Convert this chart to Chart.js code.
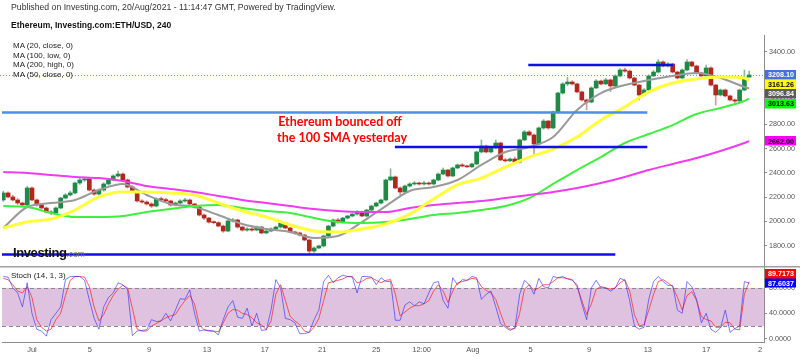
<!DOCTYPE html>
<html><head><meta charset="utf-8">
<script src="https://cdn.jsdelivr.net/npm/chart.js"></script>
<style>
html,body{margin:0;padding:0;background:#fff;width:800px;height:357px;overflow:hidden;font-family:"Liberation Sans",Arial,sans-serif;}
canvas{position:absolute;left:0;}
#c1{top:0;}
#c2{top:266px;}
.t{position:absolute;white-space:nowrap;line-height:1;transform:translateY(-50%);z-index:5;}
</style></head><body>
<canvas id="c1" width="800" height="266" style="width:800px;height:266px"></canvas>
<canvas id="c2" width="800" height="91" style="width:800px;height:91px"></canvas>
<div class="t" style="left:11px;top:7px;font-size:8.7px;color:#333">Published on Investing.com, 20/Aug/2021 - 11:14:47 GMT, Powered by TradingView.</div>
<div class="t" style="left:11px;top:25px;font-size:8.5px;font-weight:bold;color:#111">Ethereum, Investing.com:ETH/USD, 240</div>
<div class="t" style="left:13px;top:46px;font-size:8px;color:#222">MA (20, close, 0)</div>
<div class="t" style="left:13px;top:55.5px;font-size:8px;color:#222">MA (100, low, 0)</div>
<div class="t" style="left:13px;top:65px;font-size:8px;color:#222">MA (200, high, 0)</div>
<div class="t" style="left:13px;top:74.5px;font-size:8px;color:#222">MA (50, close, 0)</div>
<div class="t" style="left:13px;top:252px;font-size:13px;font-weight:bold;color:#111;letter-spacing:-0.4px">Investing<span style="font-size:8.5px;font-weight:normal;color:#777;letter-spacing:0">.com</span></div>
<div class="t" style="left:11px;top:276px;font-size:8px;color:#222">Stoch (14, 1, 3)</div>
<div class="t" style="left:340px;top:121.5px;transform:translate(-50%,-50%);font-family:Lato,sans-serif;font-weight:bold;font-size:12.5px;color:#ff0000">Ethereum bounced off</div>
<div class="t" style="left:342px;top:137.5px;transform:translate(-50%,-50%);font-family:Lato,sans-serif;font-weight:bold;font-size:12.5px;color:#ff0000">the 100 SMA yesterday</div>
<script>
// ---------------- DATA (4h-chart read at 8h resolution) ----------------
const open = [
2177,2235,2202,2177,2152,2136,2276,2177,2136,2111,
2078,2070,2111,2193,2218,2235,2317,2342,2350,2259,
2226,2259,2309,2342,2375,2391,2342,2284,2243,2169,
2160,2144,2127,2185,2180,2169,2136,2152,2169,2177,
2144,2119,2053,2028,1995,1990,1962,1921,2004,2012,
1954,1929,1938,1929,1954,1905,1921,1938,1954,1987,
1946,1913,1905,1888,1847,1756,1781,1798,1880,1962,
2012,1995,2028,2045,2061,2078,2045,2094,2127,2152,
2177,2342,2367,2276,2243,2292,2309,2317,2309,2317,
2309,2342,2391,2424,2375,2441,2466,2457,2450,2474,
2573,2622,2573,2606,2647,2507,2500,2515,2490,2672,
2738,2713,2639,2771,2828,2771,2903,3059,3134,3150,
3134,3068,3002,2985,3101,3158,3134,3167,3117,3200,
3249,3240,3183,3125,3043,3084,3200,3232,3315,3282,
3298,3232,3183,3249,3315,3282,3224,3200,3266,3125,
3043,3084,3035,3002,2993,3084,3190];
const high = [
2250,2245,2215,2190,2160,2290,2285,2185,2145,2120,
2090,2120,2200,2230,2250,2325,2355,2365,2355,2270,
2270,2320,2355,2385,2416,2400,2350,2295,2250,2180,
2170,2155,2195,2200,2190,2175,2160,2180,2190,2185,
2150,2125,2060,2035,2005,1998,1970,2015,2025,2020,
1962,1950,1948,1962,1960,1930,1948,1962,1995,1995,
1952,1920,1912,1895,1852,1790,1805,1888,1970,2020,
2025,2035,2052,2070,2090,2085,2100,2135,2160,2185,
2350,2435,2375,2285,2300,2320,2330,2325,2330,2325,
2350,2400,2441,2430,2450,2475,2478,2465,2482,2580,
2672,2630,2615,2672,2655,2520,2525,2530,2680,2750,
2750,2720,2780,2840,2835,2910,3065,3145,3190,3160,
3142,3075,3010,3110,3170,3165,3180,3175,3210,3260,
3265,3250,3190,3130,3095,3210,3245,3335,3325,3310,
3305,3240,3258,3335,3320,3290,3232,3290,3275,3132,
3092,3092,3042,3010,3092,3249,3240];
const low = [
2165,2195,2170,2140,2125,2130,2170,2125,2100,2070,
2055,2062,2105,2185,2210,2228,2305,2330,2250,2215,
2215,2250,2300,2335,2365,2335,2275,2235,2160,2150,
2135,2115,2120,2170,2160,2128,2128,2145,2160,2135,
2110,2045,2015,1985,1980,1955,1910,1915,1995,1945,
1920,1920,1920,1922,1898,1898,1915,1930,1945,1940,
1905,1895,1880,1840,1728,1745,1775,1790,1870,1955,
1985,1988,2020,2038,2052,2040,2038,2088,2120,2145,
2170,2335,2268,2220,2235,2285,2300,2300,2300,2300,
2300,2335,2385,2365,2370,2435,2450,2445,2445,2468,
2565,2565,2565,2598,2500,2490,2492,2480,2482,2665,
2705,2548,2630,2762,2760,2765,2895,3050,3120,3125,
3060,2995,2920,2978,3095,3125,3128,3070,3110,3192,
3232,3175,3118,3002,3035,3075,3195,3225,3275,3275,
3225,3175,3176,3242,3275,3215,3192,3192,3118,2960,
3035,3028,2995,2975,2986,3078,3195];
const close = [
2235,2202,2177,2152,2136,2276,2177,2136,2111,2078,
2070,2111,2193,2218,2235,2317,2342,2350,2259,2226,
2259,2309,2342,2375,2391,2342,2284,2243,2169,2160,
2144,2127,2185,2180,2169,2136,2152,2169,2177,2144,
2119,2053,2028,1995,1990,1962,1921,2004,2012,1954,
1929,1938,1929,1954,1905,1921,1938,1954,1987,1946,
1913,1905,1888,1847,1756,1781,1798,1880,1962,2012,
1995,2028,2045,2061,2078,2045,2094,2127,2152,2177,
2342,2367,2276,2243,2292,2309,2317,2309,2317,2309,
2342,2391,2424,2375,2441,2466,2457,2450,2474,2573,
2622,2573,2606,2647,2507,2500,2515,2490,2672,2738,
2713,2639,2771,2828,2771,2903,3059,3134,3150,3134,
3068,3002,2985,3101,3158,3134,3167,3117,3200,3249,
3240,3183,3125,3043,3084,3200,3232,3315,3282,3298,
3232,3183,3249,3315,3282,3224,3200,3266,3125,3043,
3084,3035,3002,2993,3084,3190,3208.10];

// moving averages, read at every 5th bar
const maIdx = [0,5,10,15,20,25,30,35,40,45,50,55,60,65,70,75,80,85,90,95,100,105,110,115,120,125,130,135,140,145,150,155,156];
const ma20close = [1946,2119,2152,2177,2259,2309,2218,2144,2119,2053,1979,1938,1913,1864,1880,1995,2127,2251,2284,2342,2466,2573,2614,2696,2919,3059,3125,3166,3200,3224,3183,3109,3096.84];
const ma50close = [1946,1995,2020,2094,2202,2243,2243,2235,2218,2152,2086,2037,1971,1921,1913,1938,1979,2061,2185,2301,2358,2449,2531,2597,2696,2837,2944,3068,3142,3175,3191,3183,3161.26];
const ma100low = [2127,2119,2070,2037,2037,2045,2078,2103,2127,2136,2111,2086,2070,2028,1995,1987,1995,2020,2053,2070,2094,2127,2193,2309,2424,2531,2647,2721,2795,2886,2936,2993,3013.63];
const ma200high = [2408,2400,2383,2367,2358,2334,2292,2268,2243,2210,2177,2152,2127,2103,2086,2078,2078,2111,2136,2152,2169,2193,2218,2243,2276,2317,2367,2424,2474,2523,2581,2647,2662.00];

// stochastic (14,1,3)
const stochK = [
98,97,80,72,50,88,40,15,12,4, 30,40,50,93,98,98,98,92,61,32,
15,50,65,72,88,85,77,5,12,13, 14,30,27,28,40,28,45,63,62,77,
40,12,14,13,12,6,30,50,60,34, 32,48,20,40,13,14,45,93,80,32,
30,25,8,8,10,30,45,90,100,88, 96,100,98,97,72,98,98,97,85,96,
90,90,29,29,53,58,52,58,55,72, 88,90,60,48,96,85,93,92,98,96,
62,70,75,50,24,18,13,17,70,92, 85,70,95,82,80,98,96,98,94,92,
85,55,30,80,92,80,80,75,80,95, 92,60,20,15,18,62,90,98,90,84,
84,45,40,90,82,62,25,40,15,10, 17,45,10,16,20,90,87.6037];
const stochD = [
95,93,85,75,72,82,65,30,18,12, 15,30,40,68,92,98,98,97,82,50,
28,38,55,68,78,84,80,48,15,12, 12,20,24,28,33,36,38,50,60,68,
55,22,14,12,12,11,25,40,46,45, 40,38,33,25,22,14,28,70,85,60,
35,28,22,12,10,18,32,60,88,90, 92,94,98,98,88,90,95,96,92,88,
92,93,70,36,42,48,52,52,55,60, 75,85,75,57,75,88,90,92,95,94,
82,76,72,62,40,20,15,16,40,78, 85,76,80,85,85,90,96,96,95,93,
82,60,38,55,78,82,80,78,80,88, 93,75,38,20,22,45,70,90,93,88,
82,65,45,68,74,60,35,30,28,18, 18,26,25,15,14,70,89.7173];

// drawn horizontal levels (price, from bar, to bar)
const levelPrice = [3290, 2898, 2614, 1727];
const levelFrom  = [109.8, -0.3, 81.9, -0.3];
const levelTo    = [140.1, 134.7, 134.7, 128.0];
const levelKind  = ['dark','light','dark','dark'];

// axis ticks
const priceTicks = [1800, 2000, 2200, 2400, 2600, 2800, 3000, 3200, 3400];
const stochTicks = [0, 40, 80];
const tickIdx  = [6.0, 18.1, 30.5, 42.6, 54.7, 66.7, 78.0, 87.5, 98.2, 110.3, 122.5, 134.8, 147.0, 158.3];
const tickText = ['Jul','5','9','13','17','21','25','12:00','Aug','5','9','13','17','2'];

// ---------------- CHARTS ----------------
Chart.defaults.font.family = "'Liberation Sans', Arial, sans-serif";
const X_MIN = -0.27, X_MAX = 159.1;
const AXIS_W = 36;

const lastClose = close[close.length - 1];
const isUp = close.map((c, i) => c >= open[i]);
const bodyColors = isUp.map(u => u ? '#1f8a46' : '#b3261e');
const wickColors = isUp.map(u => u ? '#8fb79c' : '#d39a96');

const pts = (arr) => arr.map((v, k) => ({x: maIdx[k], y: v}));
const maDs = (arr, color, w, ord) => ({type:'line', data: pts(arr), borderColor: color, borderWidth: w,
  pointRadius: 0, cubicInterpolationMode: 'monotone', fill: false, order: ord});

const levelDs = levelPrice.map((p, k) => ({type:'line',
  data: [{x: levelFrom[k], y: p}, {x: levelTo[k], y: p}],
  borderColor: levelKind[k] === 'light' ? '#4f8ee6' : '#1010e6', borderWidth: 2.5,
  pointRadius: 0, fill: false, order: -1}));

function noPad(s) { s.paddingTop = 0; s.paddingBottom = 0; s.paddingLeft = 0; s.paddingRight = 0; }

function placeLabels(items, gap) {
  const placed = [];
  items.forEach(it => {
    let y = it.y, guard = 0, moved = true;
    while (moved && guard++ < 30) {
      moved = false;
      for (const p of placed) {
        if (Math.abs(y - p) < gap - 0.01) {
          y = it.y < p ? p - gap : p + gap;
          moved = true;
        }
      }
    }
    it.py = y;
    placed.push(y);
  });
  return items;
}
function drawBoxes(chart, items) {
  const ctx = chart.ctx;
  const x0 = chart.chartArea.right + 1;
  ctx.save();
  ctx.font = "bold 7.2px 'Liberation Sans', Arial, sans-serif";
  ctx.textBaseline = 'middle';
  items.forEach(it => {
    ctx.fillStyle = it.bg;
    ctx.fillRect(x0, Math.round(it.py - 4.75), 31, 9.5);
    ctx.fillStyle = it.fg;
    ctx.fillText(it.text, x0 + 3, it.py + 0.5);
  });
  ctx.restore();
}

const mainPlugin = {
  id: 'mainDeco',
  beforeDatasetsDraw(chart) {
    const {ctx, chartArea: a, scales: {y}} = chart;
    const py = Math.round(y.getPixelForValue(lastClose)) + 0.5;
    ctx.save();
    ctx.strokeStyle = '#6f8ff0';
    ctx.lineWidth = 1;
    ctx.setLineDash([1, 2]);
    ctx.beginPath(); ctx.moveTo(0, py); ctx.lineTo(a.right, py); ctx.stroke();
    ctx.restore();
  },
  afterDraw(chart) {
    const y = chart.scales.y;
    const last = a => a[a.length - 1];
    const items = [
      {v: lastClose, bg: '#4470e0', fg: '#ffffff'},
      {v: last(ma50close), bg: '#ffff00', fg: '#000000'},
      {v: last(ma20close), bg: '#5a5a5a', fg: '#ffffff'},
      {v: last(ma100low), bg: '#00ff00', fg: '#000000'},
      {v: last(ma200high), bg: '#ff00ff', fg: '#000000'}
    ].map(o => Object.assign(o, {y: y.getPixelForValue(o.v), text: o.v.toFixed(2)}));
    drawBoxes(chart, placeLabels(items, 9.5));
  }
};

new Chart(document.getElementById('c1'), {
  type: 'bar',
  data: {datasets: [
    ...levelDs,
    maDs(ma50close, '#ffff3a', 3, 0),
    maDs(ma200high, '#f03cf0', 2, 1),
    maDs(ma100low, '#3ef03e', 2, 2),
    maDs(ma20close, '#9a9a9a', 2, 3),
    {type: 'bar', data: close.map((c, i) => ({x: i, y: [open[i], c]})), backgroundColor: bodyColors,
      barThickness: 4, grouped: false, minBarLength: 1, order: 5},
    {type: 'bar', data: close.map((c, i) => ({x: i, y: [low[i], high[i]]})), backgroundColor: wickColors,
      barThickness: 1, grouped: false, order: 6}
  ]},
  options: {
    responsive: false, animation: false, events: [],
    layout: {padding: {top: 35, left: 2, right: 0, bottom: 0}},
    plugins: {legend: {display: false}, tooltip: {enabled: false}},
    scales: {
      x: {type: 'linear', min: X_MIN, max: X_MAX, offset: false, display: false},
      y: {position: 'right', min: 1632.6, max: 3537.6,
        afterBuildTicks(s) { s.ticks = priceTicks.map(v => ({value: v})); },
        afterFit(s) { s.width = AXIS_W; noPad(s); },
        border: {display: true, color: '#8c8c8c', width: 1},
        grid: {drawOnChartArea: false, drawTicks: true, tickLength: 3, color: '#8c8c8c'},
        ticks: {autoSkip: false, padding: 2, color: '#555',
          font: {size: 7.2}, callback: v => Number(v).toFixed(2)}}
    }
  },
  plugins: [mainPlugin]
});

const stochPlugin = {
  id: 'stochDeco',
  beforeDatasetsDraw(chart) {
    const {ctx, chartArea: a, scales: {y}} = chart;
    const y80 = y.getPixelForValue(80), y20 = y.getPixelForValue(20);
    ctx.save();
    ctx.fillStyle = '#dfc2e0';
    ctx.fillRect(a.left, y80, a.right - a.left, y20 - y80);
    ctx.strokeStyle = '#8a8a8a';
    ctx.lineWidth = 1;
    ctx.setLineDash([4, 3]);
    [y80, y20].forEach(p => { ctx.beginPath(); ctx.moveTo(a.left, Math.round(p) + 0.5); ctx.lineTo(a.right, Math.round(p) + 0.5); ctx.stroke(); });
    ctx.restore();
  },
  afterDraw(chart) {
    const {ctx, scales: {y}} = chart;
    ctx.save();
    ctx.fillStyle = '#a0a0a0';
    ctx.fillRect(0, 0, chart.width, 1.5);
    ctx.restore();
    const items = [
      {v: stochK[stochK.length - 1], bg: '#0000ff', fg: '#ffffff'},
      {v: stochD[stochD.length - 1], bg: '#ff0000', fg: '#ffffff'}
    ].map(o => Object.assign(o, {y: y.getPixelForValue(o.v), text: o.v.toFixed(4)}));
    drawBoxes(chart, placeLabels(items, 9.5));
  }
};

new Chart(document.getElementById('c2'), {
  type: 'line',
  data: {datasets: [
    {data: stochD.map((v, i) => ({x: i, y: v})), borderColor: 'rgba(255,40,40,0.75)', borderWidth: 1, pointRadius: 0, fill: false, order: 1},
    {data: stochK.map((v, i) => ({x: i, y: v})), borderColor: 'rgba(40,40,255,0.6)', borderWidth: 1, pointRadius: 0, fill: false, order: 0}
  ]},
  options: {
    responsive: false, animation: false, events: [],
    layout: {padding: {top: 0, left: 2, right: 0, bottom: 0}},
    plugins: {legend: {display: false}, tooltip: {enabled: false}},
    scales: {
      x: {type: 'linear', min: X_MIN, max: X_MAX, offset: false,
        afterBuildTicks(s) { s.ticks = tickIdx.map(v => ({value: v})); },
        afterFit(s) { s.height = 15; noPad(s); },
        border: {display: true, color: '#8c8c8c', width: 1},
        grid: {display: false, drawTicks: false},
        ticks: {autoSkip: false, maxRotation: 0, minRotation: 0, padding: 3, color: '#555',
          font: {size: 7.5}, callback: (v, i) => tickText[i]}},
      y: {position: 'right', min: -5.2, max: 114.5,
        afterBuildTicks(s) { s.ticks = stochTicks.map(v => ({value: v})); },
        afterFit(s) { s.width = AXIS_W; noPad(s); },
        border: {display: true, color: '#8c8c8c', width: 1},
        grid: {drawOnChartArea: false, drawTicks: true, tickLength: 3, color: '#8c8c8c'},
        ticks: {autoSkip: false, padding: 2, color: '#555',
          font: {size: 7.2}, callback: v => Number(v).toFixed(4)}}
    }
  },
  plugins: [stochPlugin]
});
</script>
</body></html>
